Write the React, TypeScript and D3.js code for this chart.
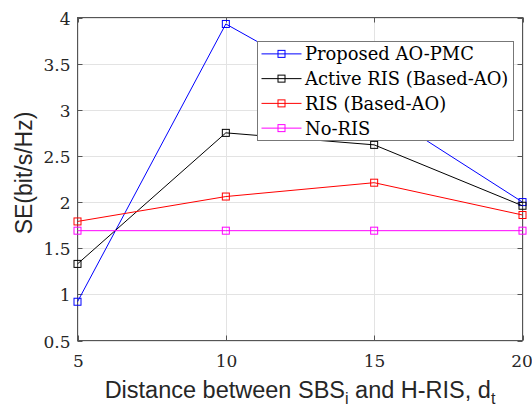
import React from "react";
import * as d3 from "d3";

const distances = [5, 10, 15, 20];
const proposed = [0.92, 3.93, 3.03, 2.0];
const activeRis = [1.33, 2.75, 2.62, 1.96];
const ris = [1.79, 2.06, 2.21, 1.86];
const noRis = [1.69, 1.69, 1.69, 1.69];
const seriesNames = ["Proposed AO-PMC", "Active RIS (Based-AO)", "RIS (Based-AO)", "No-RIS"];
const seriesColors = ["#0000ff", "#000000", "#ff0000", "#ff00ff"];
const xTicks = [5, 10, 15, 20];
const yTicks = [0.5, 1, 1.5, 2, 2.5, 3, 3.5, 4];

const W = 532;
const H = 412;
const L = 77.5, R = 522.5, T = 17.5, B = 340.5;

export default function App() {
  const x = d3.scaleLinear().domain([5, 20]).range([L, R]);
  const y = d3.scaleLinear().domain([0.5, 4]).range([B, T]);
  const line = d3
    .line<number>()
    .x((_, i) => x(distances[i]))
    .y((d) => y(d));
  const all = [proposed, activeRis, ris, noRis];
  const serif = "'DejaVu Serif', serif";
  const sans = "'Liberation Sans', Arial, sans-serif";
  const ms = 7;
  const legX = 257.5, legY = 41.5, legW = 256, legH = 99;
  const rowH = legH / 4;

  return (
    <svg
      width={W}
      height={H}
      style={{ position: "absolute", left: 0, top: 0, background: "#fff" }}
    >
      <rect x={0} y={0} width={W} height={H} fill="#fff" />
      {/* grid */}
      {yTicks.map((t) => (
        <line key={"gy" + t} x1={L} x2={R} y1={Math.round(y(t)) + 0.5} y2={Math.round(y(t)) + 0.5} stroke="#e3e3e3" strokeWidth={1} />
      ))}
      {xTicks.map((t) => (
        <line key={"gx" + t} y1={T} y2={B} x1={Math.round(x(t)) + 0.5} x2={Math.round(x(t)) + 0.5} stroke="#e3e3e3" strokeWidth={1} />
      ))}
      {/* ticks */}
      {yTicks.map((t) => {
        const yy = Math.round(y(t)) + 0.5;
        return (
          <g key={"ty" + t}>
            <line x1={L} x2={L + 5} y1={yy} y2={yy} stroke="#555" />
            <line x1={R} x2={R - 5} y1={yy} y2={yy} stroke="#555" />
            <text x={70.5} y={yy + 6} textAnchor="end" fontFamily={serif} fontSize={17} fill="#262626">
              {d3.format("~g")(t)}
            </text>
          </g>
        );
      })}
      {xTicks.map((t, i) => {
        const xx = Math.round(x(t)) + 0.5;
        return (
          <g key={"tx" + t}>
            <line x1={xx} x2={xx} y1={B} y2={B - 5} stroke="#555" />
            <line x1={xx} x2={xx} y1={T} y2={T + 5} stroke="#555" />
            <text x={i === xTicks.length - 1 ? xx - 1.5 : xx} y={367} textAnchor="middle" fontFamily={serif} fontSize={17} fill="#262626">
              {t}
            </text>
          </g>
        );
      })}
      {/* frame */}
      <rect x={L} y={T} width={R - L} height={B - T} fill="none" stroke="#555" strokeWidth={1} />
      {/* series */}
      {all.map((s, si) => (
        <g key={"s" + si}>
          <path d={line(s) || ""} fill="none" stroke={seriesColors[si]} strokeWidth={1} />
          {s.map((v, i) => (
            <rect
              key={i}
              x={x(distances[i]) - ms / 2}
              y={y(v) - ms / 2}
              width={ms}
              height={ms}
              fill="none"
              stroke={seriesColors[si]}
              strokeWidth={1}
            />
          ))}
        </g>
      ))}
      {/* legend */}
      <rect x={legX} y={legY} width={legW} height={legH} fill="#fff" stroke="#777" strokeWidth={1} />
      {seriesNames.map((n, i) => {
        const cy = legY + rowH * (i + 0.5);
        return (
          <g key={"l" + i}>
            <line x1={261.5} x2={301.5} y1={cy} y2={cy} stroke={seriesColors[i]} strokeWidth={1} />
            <rect x={281.5 - ms / 2} y={cy - ms / 2} width={ms} height={ms} fill="none" stroke={seriesColors[i]} />
            <text x={305} y={cy + 6.5} fontFamily={serif} fontSize={17.9} fill="#000">
              {n}
            </text>
          </g>
        );
      })}
      {/* axis labels */}
      <text x={300} y={398} textAnchor="middle" fontFamily={sans} fontSize={23.5} fill="#262626">
        Distance between SBS
        <tspan fontSize={16} dy={6}>i</tspan>
        <tspan dy={-6}> and H-RIS, d</tspan>
        <tspan fontSize={16} dy={6}>t</tspan>
      </text>
      <text transform="translate(32,173) rotate(-90)" textAnchor="middle" fontFamily={sans} fontSize={23} fill="#262626">
        SE(bit/s/Hz)
      </text>
    </svg>
  );
}
